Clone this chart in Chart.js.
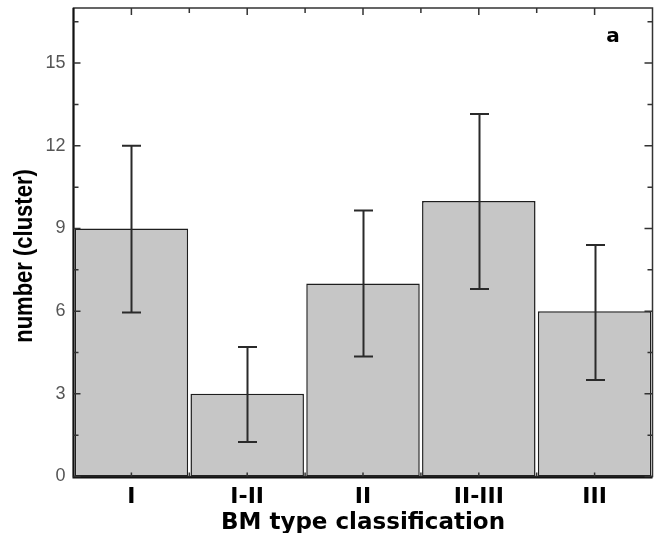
<!DOCTYPE html>
<html>
<head>
<meta charset="utf-8">
<script src="https://cdn.jsdelivr.net/npm/chart.js@4/dist/chart.umd.min.js"></script>
<style>
  html, body { margin: 0; padding: 0; background: #fff; }
  #wrap { width: 662px; height: 533px; }
</style>
</head>
<body>
<div id="wrap"><canvas id="c" width="662" height="533"></canvas></div>
<script>
// ---- data ----
const categories = ['I', 'I-II', 'II', 'II-III', 'III'];
const values = [9, 3, 7, 10, 6];
const errUpper = [12.0, 4.7, 9.65, 13.15, 8.4];
const errLower = [5.95, 1.25, 4.35, 6.8, 3.5];
const yTicks = [0, 3, 6, 9, 12, 15];
const yMinorTicks = [1.5, 4.5, 7.5, 10.5, 13.5, 16.5];
const yTitle = 'number (cluster)';
const xTitle = 'BM type classification';
const panelLabel = 'a';

const frame = {
  id: 'frame',
  afterDatasetsDraw(chart) {
    const ctx = chart.ctx;
    const a = chart.chartArea;
    const xs = chart.scales.x, ys = chart.scales.y;
    ctx.save();
    // error bars
    const meta = chart.getDatasetMeta(0);
    ctx.strokeStyle = '#2a2a2a';
    ctx.lineWidth = 2;
    meta.data.forEach((bar, i) => {
      const x = Math.round(bar.x) + 0.5;
      const yu = ys.getPixelForValue(errUpper[i]);
      const yl = ys.getPixelForValue(errLower[i]);
      ctx.beginPath();
      ctx.moveTo(x, yu); ctx.lineTo(x, yl);
      ctx.moveTo(x - 9.5, yu); ctx.lineTo(x + 9.5, yu);
      ctx.moveTo(x - 9.5, yl); ctx.lineTo(x + 9.5, yl);
      ctx.stroke();
    });
    // frame
    ctx.strokeStyle = '#333';
    ctx.lineWidth = 1.5;
    ctx.strokeRect(a.left, a.top, a.right - a.left, a.bottom - a.top);
    ctx.strokeStyle = '#111';
    ctx.lineWidth = 2;
    ctx.beginPath();
    ctx.moveTo(a.left, a.top); ctx.lineTo(a.left, a.bottom + 1); ctx.lineTo(a.right, a.bottom + 1);
    ctx.stroke();
    // ticks
    ctx.strokeStyle = '#333';
    ctx.lineWidth = 1.5;
    ctx.beginPath();
    yTicks.forEach(v => {
      const y = ys.getPixelForValue(v);
      ctx.moveTo(a.left, y); ctx.lineTo(a.left + 7, y);
      ctx.moveTo(a.right, y); ctx.lineTo(a.right - 8, y);
    });
    yMinorTicks.forEach(v => {
      const y = ys.getPixelForValue(v);
      ctx.moveTo(a.left, y); ctx.lineTo(a.left + 5, y);
      ctx.moveTo(a.right, y); ctx.lineTo(a.right - 5, y);
    });
    for (let i = 0; i < categories.length; i++) {
      const x = xs.getPixelForValue(i);
      ctx.moveTo(x, a.top); ctx.lineTo(x, a.top + 7);
      ctx.moveTo(x, a.bottom); ctx.lineTo(x, a.bottom - 4);
      if (i > 0) {
        const xb = (xs.getPixelForValue(i - 1) + x) / 2;
        ctx.moveTo(xb, a.top); ctx.lineTo(xb, a.top + 5);
        ctx.moveTo(xb, a.bottom); ctx.lineTo(xb, a.bottom - 4);
      }
    }
    ctx.stroke();
    // panel label
    ctx.fillStyle = '#000';
    ctx.font = 'bold 20px "DejaVu Sans", sans-serif';
    ctx.textAlign = 'center';
    ctx.textBaseline = 'alphabetic';
    ctx.fillText(panelLabel, 613, 42);
    // y title
    ctx.save();
    ctx.translate(25, 256);
    ctx.rotate(-Math.PI / 2);
    ctx.scale(0.88, 1);
    ctx.font = 'bold 25px "Liberation Sans", Arial, sans-serif';
    ctx.fillStyle = '#000';
    ctx.textAlign = 'center';
    ctx.textBaseline = 'middle';
    ctx.fillText(yTitle, 0, 0);
    ctx.restore();
    ctx.restore();
  }
};

new Chart(document.getElementById('c'), {
  type: 'bar',
  data: {
    labels: categories,
    datasets: [{
      data: values,
      backgroundColor: '#c6c6c6',
      borderColor: '#1e1e1e',
      borderWidth: 1.5,
      borderSkipped: false,
      categoryPercentage: 1.0,
      barPercentage: 0.98
    }]
  },
  options: {
    responsive: false,
    animation: false,
    devicePixelRatio: 1,
    layout: { padding: { left: 0, right: 9.5, top: 8, bottom: 0 } },
    plugins: { legend: { display: false }, tooltip: { enabled: false } },
    scales: {
      x: {
        grid: { display: false, drawTicks: false },
        border: { display: false },
        ticks: {
          color: '#000',
          padding: 8,
          font: { family: '"DejaVu Sans", sans-serif', weight: 'bold', size: 22 }
        },
        title: {
          display: true,
          text: xTitle,
          color: '#000',
          padding: { top: 0, bottom: -4 },
          font: { family: '"DejaVu Sans", sans-serif', weight: 'bold', size: 23 }
        },
        afterFit(s) { s.height = 56.5; s.paddingLeft = 0; s.paddingRight = 0; }
      },
      y: {
        min: 0,
        max: 17,
        grid: { display: false, drawTicks: false },
        border: { display: false },
        afterBuildTicks(s) { s.ticks = yTicks.map(v => ({ value: v })); },
        ticks: {
          color: '#555',
          padding: 8,
          font: { family: '"Liberation Sans", Arial, sans-serif', size: 18 }
        },
        afterFit(s) { s.width = 73.5; s.paddingTop = 0; s.paddingBottom = 0; }
      }
    }
  },
  plugins: [frame]
});
</script>
</body>
</html>
